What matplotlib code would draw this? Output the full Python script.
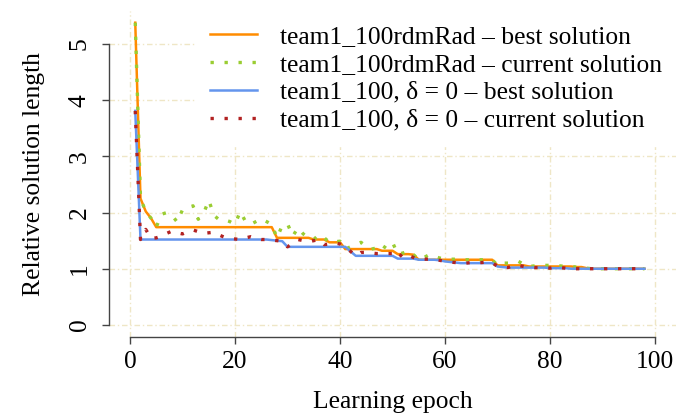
import numpy as np
import matplotlib.pyplot as plt

plt.rcParams['font.family'] = ['Liberation Serif', 'DejaVu Serif']

epochs = np.arange(1, 99)

# current solution per learning epoch
rdm_current = [
    5.38, 2.25, 2.02, 1.90, 1.74, 1.97, 2.00, 1.95, 1.83, 2.05,
    2.08, 2.12, 1.88, 1.98, 2.22, 1.95, 1.87, 1.87, 1.84, 1.79,
    2.02, 1.84, 1.79, 1.84, 1.89, 1.84, 1.79, 1.55, 1.77, 1.80,
    1.58, 1.73, 1.62, 1.55, 1.52, 1.61, 1.55, 1.47, 1.48, 1.49,
    1.35, 1.39, 1.43, 1.47, 1.40, 1.35, 1.37, 1.32, 1.45, 1.47,
    1.26, 1.28, 1.32, 1.25, 1.16, 1.20, 1.25, 1.22, 1.19, 1.18,
    1.17, 1.17, 1.16, 1.16, 1.16, 1.16, 1.16, 1.16, 1.16, 1.06,
    1.10, 1.10, 1.12, 1.13, 1.08, 1.04, 1.05, 1.06, 1.06, 1.06,
    1.06, 1.05, 1.04, 1.04, 1.03, 1.04, 1.01, 1.00, 1.00, 1.00,
    1.00, 1.00, 1.00, 1.00, 1.00, 1.00, 1.00, 1.00,
]
delta0_current = [
    3.81, 1.52, 1.70, 1.54, 1.55, 1.58, 1.63, 1.67, 1.64, 1.62,
    1.66, 1.69, 1.66, 1.63, 1.64, 1.65, 1.60, 1.56, 1.54, 1.53,
    1.52, 1.55, 1.57, 1.54, 1.52, 1.52, 1.51, 1.50, 1.49, 1.39,
    1.45, 1.52, 1.50, 1.48, 1.50, 1.52, 1.43, 1.44, 1.46, 1.44,
    1.39, 1.31, 1.23, 1.29, 1.29, 1.28, 1.27, 1.27, 1.27, 1.27,
    1.18, 1.28, 1.24, 1.20, 1.16, 1.17, 1.17, 1.16, 1.15, 1.13,
    1.12, 1.11, 1.10, 1.10, 1.11, 1.11, 1.11, 1.12, 1.11, 1.04,
    1.03, 1.02, 1.06, 1.06, 1.04, 1.03, 1.02, 1.02, 1.02, 1.01,
    1.03, 1.02, 1.01, 1.00, 1.00, 1.00, 1.00, 1.00, 1.00, 1.00,
    1.00, 1.00, 1.00, 1.00, 1.00, 1.00, 1.00, 1.00,
]

# best solution so far = running minimum of the current one
rdm_best = np.minimum.accumulate(rdm_current)
delta0_best = np.minimum.accumulate(delta0_current)

labels = ['team1_100rdmRad – best solution',
          'team1_100rdmRad – current solution',
          'team1_100, δ = 0 – best solution',
          'team1_100, δ = 0 – current solution']

FS = 18.4
fig = plt.figure(figsize=(6.94, 4.17), dpi=100)
ax = fig.add_axes([109 / 694, (417 - 337) / 417, (676 - 109) / 694, (337 - 10.6) / 417])

ax.grid(True, color='#efe6c6', lw=1, linestyle=(0, (4, 2, 1, 2)), zorder=0)
ax.set_axisbelow(True)

dots = dict(lw=2.4, linestyle=(0, (1, 3.2)), dash_capstyle='butt')
ax.plot(epochs, rdm_best, color='#ff8c00', lw=1.8, label=labels[0])
ax.plot(epochs, rdm_current, color='#9acd32', label=labels[1], **dots)
ax.plot(epochs, delta0_best, color='#6495ed', lw=1.8, label=labels[2])
ax.plot(epochs, delta0_current, color='#b22222', label=labels[3], **dots)

ax.set_xlim(-4, 104)
ax.set_ylim(-0.2152, 5.5952)
ax.set_xticks(range(0, 101, 20))
ax.set_yticks(range(0, 6))

for s in ['top', 'right']:
    ax.spines[s].set_visible(False)
ax.spines['left'].set_bounds(0, 5)
ax.spines['bottom'].set_bounds(0, 100)
for s in ['left', 'bottom']:
    ax.spines[s].set_color('#444444')
    ax.spines[s].set_linewidth(1)

ax.tick_params(axis='both', length=5, width=1, color='#444444', labelsize=FS)
ax.tick_params(axis='x', pad=5)
ax.tick_params(axis='y', pad=8)
for lab in ax.get_yticklabels():
    lab.set_rotation(90)
    lab.set_va('center')

ax.set_xlabel('Learning epoch', fontsize=FS, labelpad=13)
ax.set_ylabel('Relative solution length', fontsize=FS, labelpad=17)

leg = ax.legend(loc='upper right', fontsize=FS, frameon=True, fancybox=False,
                borderaxespad=0, borderpad=0.55, handlelength=1.85,
                handletextpad=0.9, labelspacing=0.2)
leg.get_frame().set_edgecolor('white')
leg.get_frame().set_facecolor('white')
leg.get_frame().set_alpha(1)

fig.savefig('out.png', dpi=100)
